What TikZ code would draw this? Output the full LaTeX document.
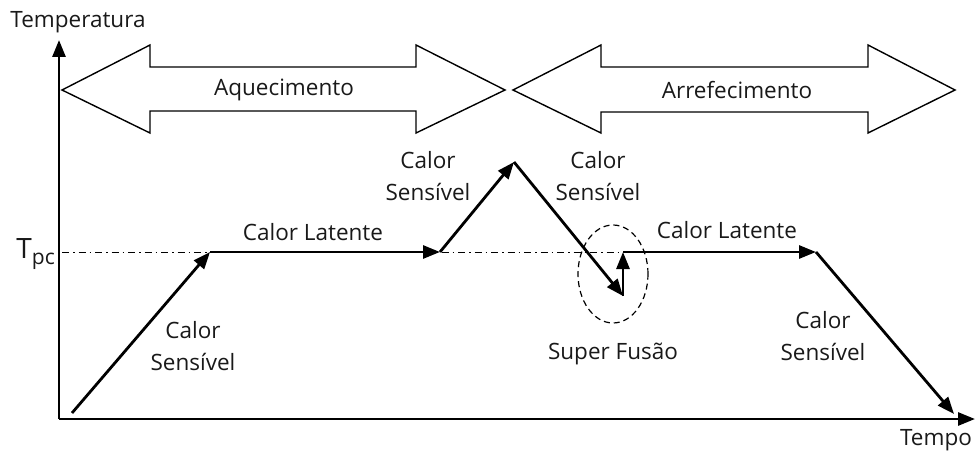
\documentclass[tikz,border=0pt]{standalone}
\usepackage{fontspec}
\setmainfont{Open Sans}
\usetikzlibrary{arrows.meta,shapes.geometric}
\begin{document}
\begin{tikzpicture}[x=1pt,y=-1pt,
  lbl/.style={font=\fontsize{22.5}{32}\selectfont, align=center, inner sep=0pt, text=black!90},
  axis/.style={line width=2.8pt, -{Triangle[length=17pt,width=13pt]}},
  flow/.style={line width=2.8pt, -{Triangle[length=17pt,width=13pt]}},
  dbl/.style={line width=1.4pt, line join=miter, fill=white},
  tline/.style={line width=1pt, dash pattern=on 7pt off 4pt on 1.5pt off 4pt}
]
\useasboundingbox (0,0) rectangle (975,452);
% reference temperature line
\coordinate (tl0) at (62,252);
\coordinate (tl1) at (820,252);
\draw[tline] (tl0) -- (tl1);
% axes
\coordinate (O) at (59,419);
\coordinate (ytip) at (59,40);
\coordinate (xtip) at (975,419);
\draw[axis] (O) -- (ytip);
\draw[axis] (O) -- (xtip);
\node[lbl, anchor=center] (ylab) at (78,22) {Temperatura};
\node[lbl, anchor=center] (xlab) at (936,440) {Tempo};
\node[inner sep=0pt, anchor=base east, text=black!90] (tpc) at (55,258) {\fontsize{28}{30}\selectfont T\raisebox{-6pt}{\fontsize{21}{22}\selectfont pc}};
% double arrows
\draw[dbl] (62,90) -- (150,45) -- (150,67) -- (416,67) -- (416,45) -- (505,90)
  -- (416,133) -- (416,111) -- (150,111) -- (150,133) -- cycle;
\node[lbl] (aq) at (284,90) {Aquecimento};
\draw[dbl] (513,90) -- (601,45) -- (601,67) -- (868,67) -- (868,45) -- (955,90)
  -- (868,133) -- (868,112) -- (601,112) -- (601,133) -- cycle;
\node[lbl] (ar) at (737,90) {Arrefecimento};
% process points
\coordinate (p0) at (72,413);
\coordinate (p1) at (210,252);
\coordinate (p2) at (440,252);
\coordinate (p3) at (514,162);
\coordinate (p4) at (623,296);
\coordinate (p5) at (623,252);
\coordinate (p6) at (816,252);
\coordinate (p7) at (954,414);
\draw[flow] (p0) -- (p1);
\draw[flow] (p1) -- (p2);
\draw[flow] (p2) -- (p3);
\draw[flow] (p3) -- (p4);
\draw[flow] (p4) -- (p5);
\draw[flow] (p5) -- (p6);
\draw[flow] (p6) -- (p7);
% supercooling ellipse
\node[draw, dash pattern=on 6pt off 4pt, line width=1.2pt, ellipse, minimum width=70pt, minimum height=98pt, inner sep=0pt] (sf) at (613,274) {};
% labels
\node[lbl] (l1) at (193,346) {Calor\\Sensível};
\node[lbl] (l2) at (313,232) {Calor Latente};
\node[lbl] (l3) at (428,176) {Calor\\Sensível};
\node[lbl] (l4) at (598,176) {Calor\\Sensível};
\node[lbl] (l5) at (727,230) {Calor Latente};
\node[lbl] (l6) at (613,354) {Super Fusão};
\node[lbl] (l7) at (823,336) {Calor\\Sensível};
\end{tikzpicture}
\end{document}
